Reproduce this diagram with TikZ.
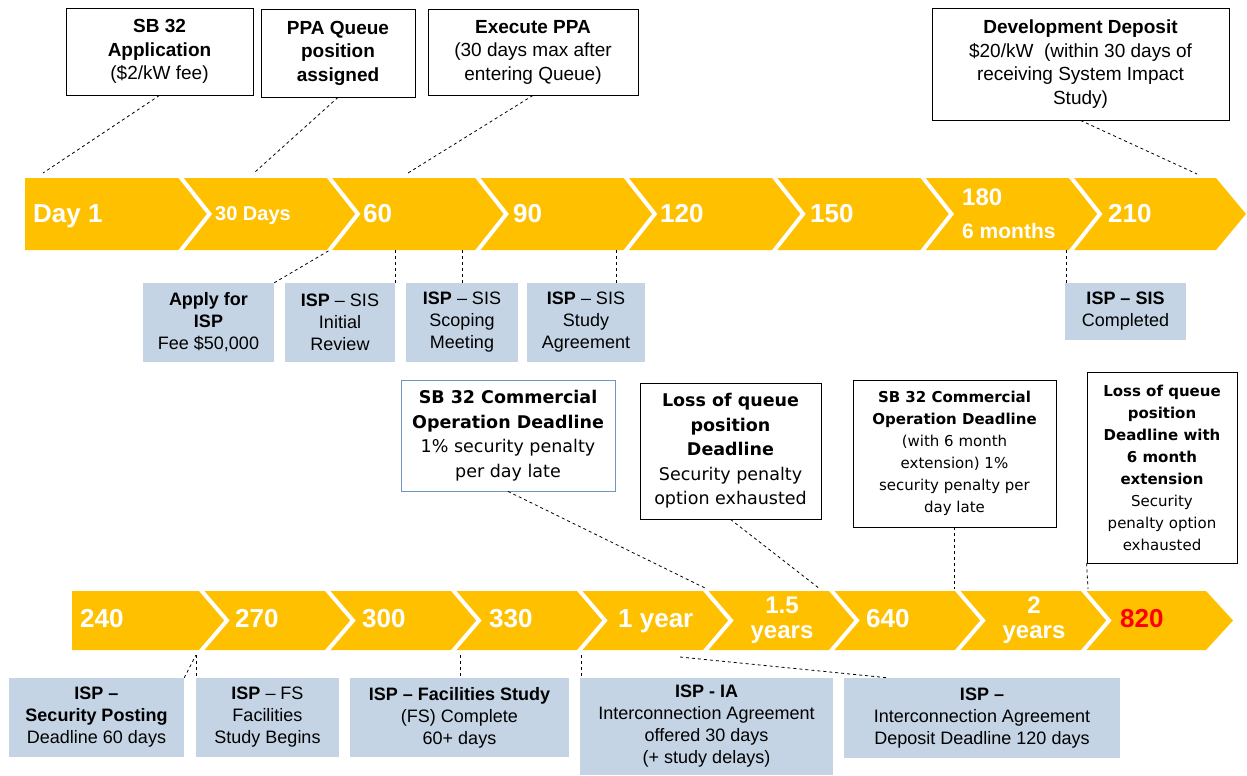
\documentclass[tikz,border=0pt]{standalone}
\usepackage{fontspec}
\setmainfont{Liberation Sans}
\newfontfamily\dejavu{DejaVu Sans}
\usepackage{xcolor}
\usepackage{tikz}
\definecolor{chevgold}{RGB}{255,192,0}
\definecolor{ispblue}{RGB}{196,212,229}
\definecolor{deadblue}{RGB}{110,150,195}
\newcommand{\callfont}{\fontsize{19}{23.5}\selectfont}
\newcommand{\ispfont}{\fontsize{18}{22}\selectfont}
\newcommand{\deadfont}{\dejavu\fontsize{17.5}{24.5}\selectfont}
\newcommand{\extfont}{\dejavu\fontsize{15}{22}\selectfont}
\newcommand{\chevfont}{\bfseries\fontsize{26}{26}\selectfont}
\tikzset{callout/.style={draw,fill=white,line width=.8pt,align=center,inner sep=0pt,font=\callfont},
deadline/.style={callout,font=\deadfont},
extbox/.style={callout,font=\extfont},
ispbox/.style={fill=ispblue,align=center,inner sep=0pt,font=\ispfont},
lead/.style={dashed,line width=.8pt},
chevgap/.style={white,line width=4pt},
daylbl/.style={text=white,font=\chevfont,anchor=base west,inner sep=0pt}}

\begin{document}
\begin{tikzpicture}[x=1pt,y=-1pt]
\useasboundingbox (0,0) rectangle (1247,776);
% first year bar
\fill[chevgold] (25,178) -- (1216,178) -- (1246,214) -- (1216,250) -- (25,250) -- cycle;
\foreach \i in {0,...,6}
  \draw[chevgap] ({209.5+148.4*\i-30},176) -- ({209.5+148.4*\i},214) -- ({209.5+148.4*\i-30},252);
% second bar
\fill[chevgold] (72,591) -- (1206,591) -- (1233,620.5) -- (1206,650) -- (72,650) -- cycle;
\foreach \i in {0,...,7}
  \draw[chevgap] ({227+126*\i-27},589) -- ({227+126*\i},620.5) -- ({227+126*\i-27},652);
% day labels
\node[daylbl] (lday1) at (33,222) {Day 1};
\node[daylbl,font=\bfseries\fontsize{20}{20}\selectfont] (l30) at (215,220) {30 Days};
\node[daylbl] (l60) at (363,222) {60};
\node[daylbl] (l90) at (513,222) {90};
\node[daylbl] (l120) at (660,222) {120};
\node[daylbl] (l150) at (810,222) {150};
\node[daylbl,anchor=west,align=left,font=\bfseries\fontsize{21}{33}\selectfont] (l180) at (962,214) {{\fontsize{24}{33}\selectfont 180}\\6 months};
\node[daylbl] (l210) at (1108,222) {210};
\node[daylbl] (l240) at (80,627) {240};
\node[daylbl] (l270) at (235,627) {270};
\node[daylbl] (l300) at (362,627) {300};
\node[daylbl] (l330) at (489,627) {330};
\node[daylbl] (lyear) at (618,627) {1 year};
\node[daylbl,anchor=center,align=center,font=\bfseries\fontsize{24}{25}\selectfont] (lyear15) at (782,620.5) {1.5\\years};
\node[daylbl] (l640) at (866,627) {640};
\node[daylbl,anchor=center,align=center,font=\bfseries\fontsize{24}{25}\selectfont] (lyear2) at (1034,620.5) {2\\years};
\node[daylbl,text=red] (l820) at (1120,627) {820};
% callouts above
\node[callout,minimum width=187,minimum height=87] (app) at (159.5,51.5) {\textbf{SB 32}\\\textbf{Application}\\(\$2/kW fee)};
\node[callout,minimum width=154,minimum height=88] (queue) at (338,53) {\textbf{PPA Queue}\\\textbf{position}\\\textbf{assigned}};
\node[callout,minimum width=210,minimum height=86] (exec) at (533,52) {\textbf{Execute PPA}\\(30 days max after\\entering Queue)};
\node[callout,minimum width=297,minimum height=112] (devdep) at (1080.5,64) {\textbf{Development Deposit}\\\$20/kW\ \ (within 30 days of\\receiving System Impact\\Study)};
\coordinate (a1) at (43,173);
\coordinate (a2) at (255,172);
\coordinate (a3) at (408,173);
\coordinate (a4) at (1197,174);
\draw[lead] (app.south) -- (a1);
\draw[lead] (queue.south) -- (a2);
\draw[lead] (exec.south) -- (a3);
\draw[lead] (devdep.south) -- (a4);
% ISP steps, first year
\node[ispbox,minimum width=131,minimum height=79] (applyisp) at (208.5,322.5) {\textbf{Apply for}\\\textbf{ISP}\\Fee \$50,000};
\node[ispbox,minimum width=110,minimum height=79] (sisreview) at (340,322.5) {\textbf{ISP} -- SIS\\Initial\\Review};
\node[ispbox,minimum width=112,minimum height=79] (sisscope) at (462,322.5) {\textbf{ISP} -- SIS\\Scoping\\Meeting};
\node[ispbox,minimum width=118,minimum height=79] (sisagree) at (586,322.5) {\textbf{ISP} -- SIS\\Study\\Agreement};
\node[ispbox,minimum width=121,minimum height=57] (siscomp) at (1125.5,311.5) {\textbf{ISP -- SIS}\\Completed};
\coordinate (b1) at (330,250);
\coordinate (b2) at (395,250);
\coordinate (b3) at (462,250);
\coordinate (b4) at (616,250);
\coordinate (b5) at (1066,250);
\draw[lead] (applyisp.north east) -- (b1);
\draw[lead] (b2) -- (b2 |- sisreview.north);
\draw[lead] (b3) -- (b3 |- sisscope.north);
\draw[lead] (b4) -- (b4 |- sisagree.north);
\draw[lead] (b5) -- (b5 |- siscomp.north);
% deadlines
\node[deadline,draw=deadblue,minimum width=214,minimum height=111] (comop) at (508,435.5) {\textbf{SB 32 Commercial}\\\textbf{Operation Deadline}\\1\% security penalty\\per day late};
\node[deadline,minimum width=181,minimum height=136] (lossq) at (730.5,451) {\textbf{Loss of queue}\\\textbf{position}\\\textbf{Deadline}\\Security penalty\\option exhausted};
\node[extbox,minimum width=203,minimum height=147] (comopext) at (954.5,453.5) {\textbf{SB 32 Commercial}\\\textbf{Operation Deadline}\\(with 6 month\\extension) 1\%\\security penalty per\\day late};
\node[extbox,minimum width=150,minimum height=191] (lossqext) at (1162,467.5) {\textbf{Loss of queue}\\\textbf{position}\\\textbf{Deadline with}\\\textbf{6 month}\\\textbf{extension}\\Security\\penalty option\\exhausted};
\coordinate (c1) at (707,589);
\coordinate (c2) at (820,589);
\coordinate (c3) at (954.5,589);
\coordinate (c4) at (1088,589);
\draw[lead] (comop.south) -- (c1);
\draw[lead] (lossq.south) -- (c2);
\draw[lead] (comopext.south) -- (c3);
\draw[lead] (lossqext.south west) -- (c4);
% ISP steps, second year
\node[ispbox,minimum width=175,minimum height=79] (secpost) at (96.5,717.5) {\textbf{ISP --}\\\textbf{Security Posting}\\Deadline 60 days};
\node[ispbox,minimum width=143,minimum height=79] (fsbegin) at (267.5,717.5) {\textbf{ISP} -- FS\\Facilities\\Study Begins};
\node[ispbox,minimum width=219,minimum height=79] (fscomp) at (459.5,717.5) {\textbf{ISP -- Facilities Study}\\(FS) Complete\\60+ days};
\node[ispbox,minimum width=253,minimum height=97] (ia) at (706.5,726.5) {\textbf{ISP - IA}\\Interconnection Agreement\\offered 30 days\\(+ study delays)};
\node[ispbox,minimum width=276,minimum height=80] (iadep) at (982,718) {\textbf{ISP --}\\Interconnection Agreement\\Deposit Deadline 120 days};
\coordinate (d1) at (196,655);
\coordinate (d2) at (460,655);
\coordinate (d3) at (581,655);
\coordinate (d4) at (680,657);
\draw[lead] (secpost.north east) -- (d1);
\draw[lead] (d1) -- (d1 |- fsbegin.north);
\draw[lead] (d2) -- (d2 |- fscomp.north);
\draw[lead] (d3) -- (d3 |- ia.north);
\draw[lead] (d4) -- ([xshift=44pt]iadep.north west);
\end{tikzpicture}
\end{document}
